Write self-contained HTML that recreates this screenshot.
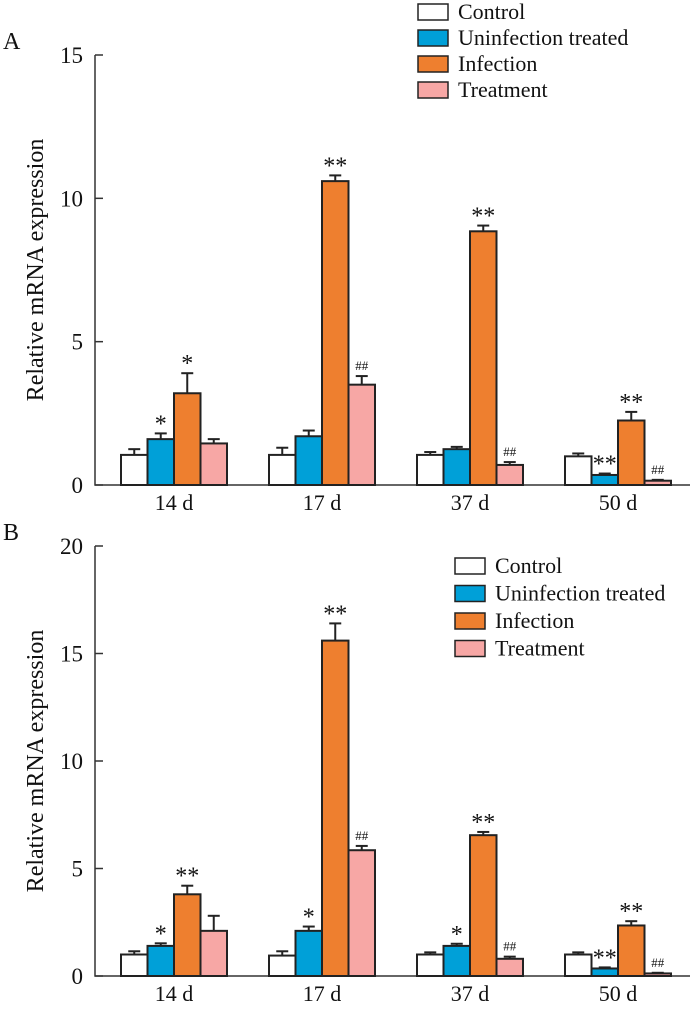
<!DOCTYPE html>
<html><head><meta charset="utf-8"><style>
body{margin:0;background:#fff}
svg text{font-family:"Liberation Serif",serif;fill:#111}
</style></head><body>
<svg id="s" width="700" height="1007" viewBox="0 0 700 1007"></svg>
<script>
const categories=["14 d","17 d","37 d","50 d"];
const seriesNames=["Control","Uninfection treated","Infection","Treatment"];
const colors=["#ffffff","#00a0d8","#ee7f2f","#f7a7a5"];
const aValues=[[1.05,1.05,1.05,1.0],[1.6,1.7,1.25,0.35],[3.2,10.6,8.85,2.25],[1.45,3.5,0.7,0.15]];
const aErrors=[[0.2,0.25,0.1,0.1],[0.2,0.2,0.08,0.05],[0.7,0.2,0.2,0.3],[0.15,0.3,0.1,0.03]];
const aMarks=[["","","",""],["*","","","**"],["*","**","**","**"],["","##","##","##"]];
const aTicks=[0,5,10,15];
const bValues=[[1.0,0.95,1.0,1.0],[1.4,2.1,1.4,0.35],[3.8,15.6,6.55,2.35],[2.1,5.85,0.8,0.12]];
const bErrors=[[0.15,0.2,0.1,0.1],[0.12,0.2,0.1,0.05],[0.4,0.8,0.15,0.2],[0.7,0.2,0.1,0.03]];
const bMarks=[["","","",""],["*","*","*","**"],["**","**","**","**"],["","##","##","##"]];
const bTicks=[0,5,10,15,20];
const NS="http://www.w3.org/2000/svg";
const svg=document.getElementById('s');
function el(t,a,p){const e=document.createElementNS(NS,t);for(const k in a)e.setAttribute(k,a[k]);(p||svg).appendChild(e);return e;}
function panel(label,vals,errs,marks,ticks,top,bottom,ymax,legX,legY,legDy,id){
  const g=el('g',{});
  
  
  const y=v=>bottom-(v/ymax)*(bottom-top);
  const lt=el('text',{x:3,y:top-6,'font-size':24},g);lt.textContent=label;
  
  
  const ax=el('path',{d:`M95 ${top}V${bottom}H690`,stroke:'#333','stroke-width':1.5,fill:'none'},g);
  
  
  ticks.forEach(t=>{
    el('line',{x1:95,x2:103,y1:y(t),y2:y(t),stroke:'#333','stroke-width':1.5},g);
    const tx=el('text',{x:83,y:y(t)+8,'font-size':23,'text-anchor':'end'},g);tx.textContent=t;
    
    
  });
  const yt=el('text',{transform:`translate(43 ${(top+bottom)/2}) rotate(-90)`,'font-size':24,'text-anchor':'middle'},g);
  yt.textContent='Relative mRNA expression';
  
  
  const bw=26.5, gap=148, start=121;
  categories.forEach((c,ci)=>{
    const gx=start+ci*gap;
    const xl=el('text',{x:gx+2*bw,y:bottom+25,'font-size':22,'text-anchor':'middle'},g);xl.textContent=c;
    
    
    for(let s=0;s<4;s++){
      const v=vals[s][ci],e=errs[s][ci],bx=gx+s*bw,cx=bx+bw/2;
      el('line',{x1:cx,x2:cx,y1:y(v),y2:y(v+e),stroke:'#222','stroke-width':2},g);
      el('line',{x1:cx-6,x2:cx+6,y1:y(v+e),y2:y(v+e),stroke:'#222','stroke-width':2},g);
      const r=el('rect',{x:bx,y:y(v),width:bw,height:bottom-y(v),fill:colors[s],stroke:'#222','stroke-width':2},g);
      
      
      const m=marks[s][ci];
      if(m){const isH=m[0]=='#';
        const t=el('text',{x:cx,y:y(v+e)-(isH?6:2),'font-size':isH?13:24,'text-anchor':'middle',fill:isH?'#555':'#111'},g);
        t.textContent=m;
        
        }
    }
  });
  seriesNames.forEach((n,i)=>{
    const ly=legY+i*legDy;
    const lr=el('rect',{x:legX,y:ly-8,width:30,height:16,fill:colors[i],stroke:'#222','stroke-width':1.5},g);
    
    
    const lt2=el('text',{x:legX+40,y:ly+7,'font-size':22},g);lt2.textContent=n;
    
    
  });
}
panel('A',aValues,aErrors,aMarks,aTicks,55,485,15,418,12,26,'a');
panel('B',bValues,bErrors,bMarks,bTicks,546,976,20,455,566,27.5,'b');
</script>
</body></html>
